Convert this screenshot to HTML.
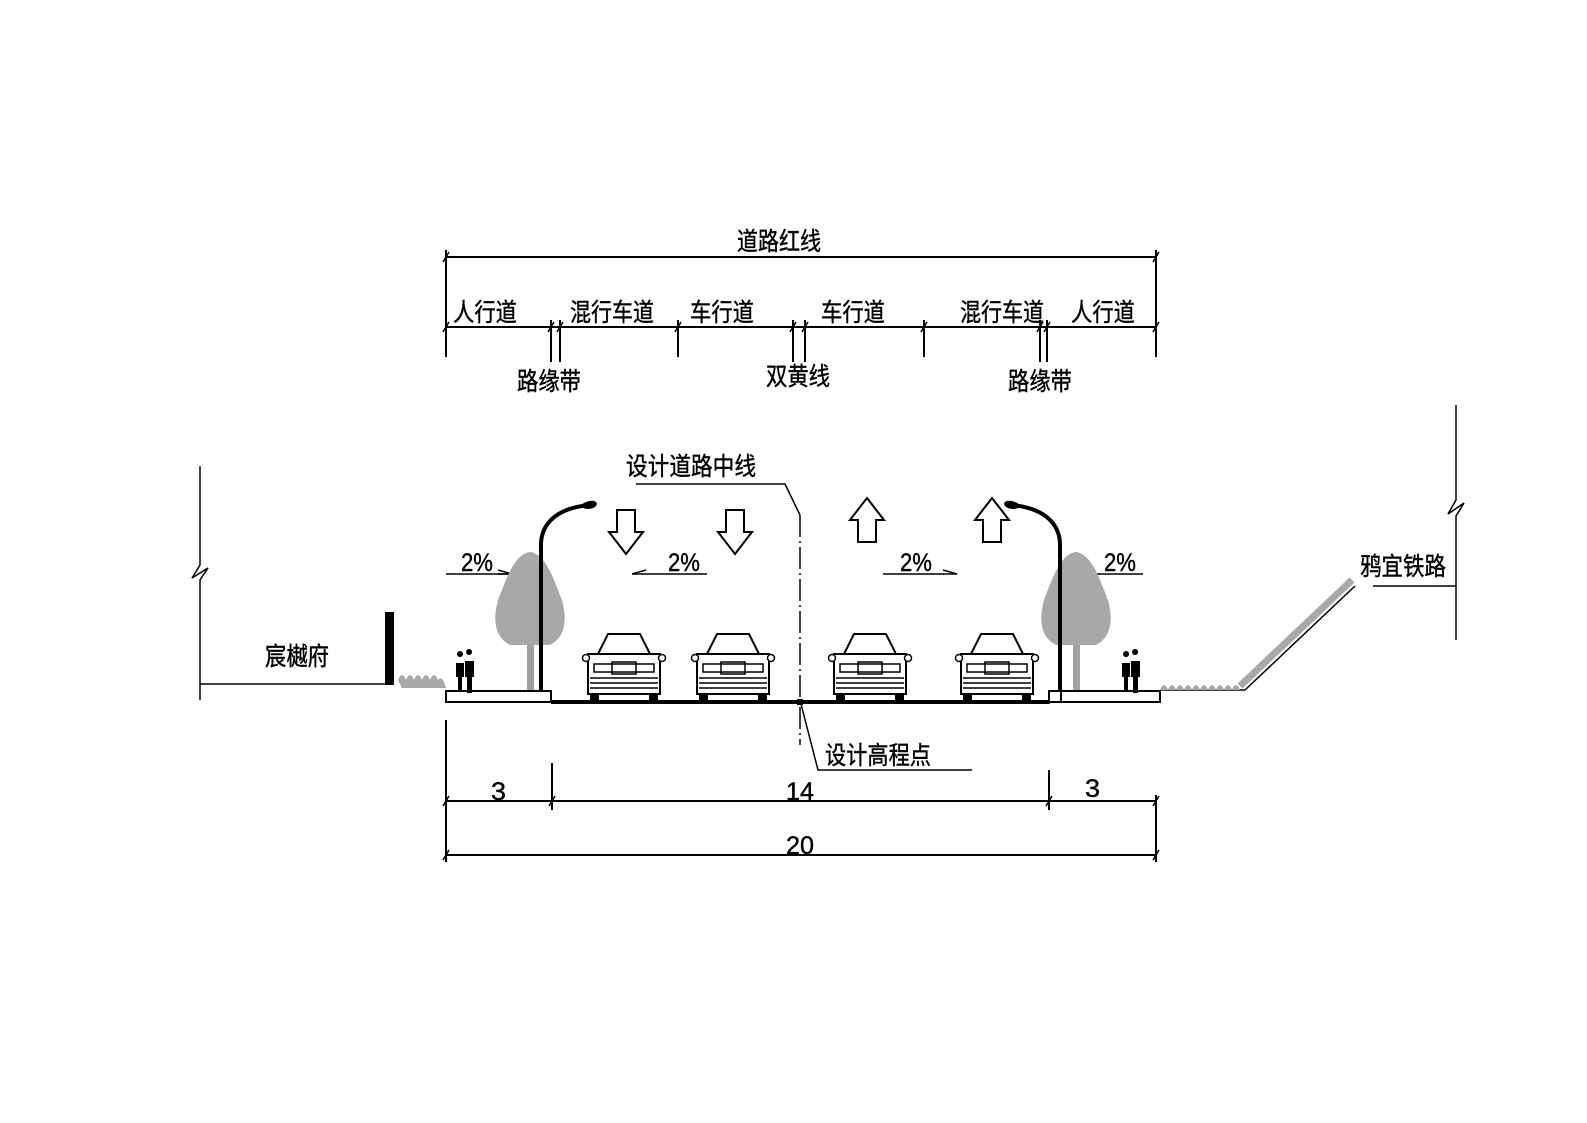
<!DOCTYPE html>
<html><head><meta charset="utf-8"><style>
html,body{margin:0;padding:0;background:#fff;overflow:hidden;}
svg{display:block;}
text{font-family:"Liberation Sans","Noto Sans CJK SC",sans-serif;fill:#000;stroke:#000;stroke-width:0.4;}
</style></head><body>
<svg width="1587" height="1123" viewBox="0 0 1587 1123" xmlns="http://www.w3.org/2000/svg">
<defs>
<g id="car">
 <path d="M-26,8 L-16,-12 L16,-12 L26,8" fill="none" stroke="#000" stroke-width="2"/>
 <rect x="-36" y="8" width="72" height="40" fill="#fff" stroke="#000" stroke-width="2"/>
 <circle cx="-38" cy="12" r="3.5" fill="#fff" stroke="#000" stroke-width="1.5"/>
 <circle cx="38" cy="12" r="3.5" fill="#fff" stroke="#000" stroke-width="1.5"/>
 <rect x="-30" y="18" width="60" height="8" fill="none" stroke="#000" stroke-width="1.5"/>
 <rect x="-12" y="16" width="24" height="12" fill="none" stroke="#000" stroke-width="1.5"/>
 <line x1="-34" y1="32" x2="34" y2="32" stroke="#000" stroke-width="1.5"/>
 <line x1="-34" y1="37" x2="34" y2="37" stroke="#000" stroke-width="1.5"/>
 <line x1="-34" y1="42" x2="34" y2="42" stroke="#000" stroke-width="1.5"/>
 <rect x="-34" y="48" width="9" height="6" fill="#000"/>
 <rect x="25" y="48" width="9" height="6" fill="#000"/>
</g>
<g id="people">
 <path d="M-6,-30 a3,3 0 1,1 0.1,0 M-10,-24 h8 v14 h-2 v14 h-4 v-14 h-2z" fill="#000"/>
 <path d="M3,-32 a3,3 0 1,1 0.1,0 M-1,-26 h9 v16 h-2 v16 h-5 v-16 h-2z" fill="#000"/>
</g>
<g id="tree">
 <rect x="-3" y="40" width="7" height="50" fill="#a0a0a0"/>
 <path d="M0,-48 C16,-46 24,-20 32,0 C38,22 34,38 20,45 L-20,45 C-34,38 -38,22 -32,0 C-24,-20 -16,-46 0,-48z" fill="#a8a8a8"/>
</g>
</defs>

<g stroke="#000" stroke-width="2" fill="none">
 <line x1="446" y1="257" x2="1156" y2="257"/>
 <line x1="446" y1="250" x2="446" y2="357"/>
 <line x1="1156" y1="250" x2="1156" y2="357"/>
 <line x1="446" y1="327" x2="1156" y2="327"/>
 <line x1="551" y1="320" x2="551" y2="362"/>
 <line x1="560" y1="320" x2="560" y2="362"/>
 <line x1="678" y1="320" x2="678" y2="357"/>
 <line x1="793" y1="320" x2="793" y2="362"/>
 <line x1="805" y1="320" x2="805" y2="362"/>
 <line x1="924" y1="320" x2="924" y2="357"/>
 <line x1="1040" y1="320" x2="1040" y2="362"/>
 <line x1="1047" y1="320" x2="1047" y2="362"/>
</g>
<g stroke="#000" stroke-width="1.5">
 <line x1="443" y1="262" x2="449" y2="252"/><line x1="1153" y1="262" x2="1159" y2="252"/>
 <line x1="443" y1="332" x2="449" y2="322"/><line x1="548" y1="332" x2="554" y2="322"/>
 <line x1="557" y1="332" x2="563" y2="322"/><line x1="675" y1="332" x2="681" y2="322"/>
 <line x1="790" y1="332" x2="796" y2="322"/><line x1="802" y1="332" x2="808" y2="322"/>
 <line x1="921" y1="332" x2="927" y2="322"/><line x1="1037" y1="332" x2="1043" y2="322"/>
 <line x1="1044" y1="332" x2="1050" y2="322"/><line x1="1153" y1="332" x2="1159" y2="322"/>
</g>
<g font-size="25">
 <text x="737" y="250" textLength="84" lengthAdjust="spacingAndGlyphs">道路红线</text>
 <text x="453" y="321" textLength="64" lengthAdjust="spacingAndGlyphs">人行道</text>
 <text x="570" y="321" textLength="84" lengthAdjust="spacingAndGlyphs">混行车道</text>
 <text x="690" y="321" textLength="64" lengthAdjust="spacingAndGlyphs">车行道</text>
 <text x="821" y="321" textLength="64" lengthAdjust="spacingAndGlyphs">车行道</text>
 <text x="960" y="321" textLength="84" lengthAdjust="spacingAndGlyphs">混行车道</text>
 <text x="1071" y="321" textLength="64" lengthAdjust="spacingAndGlyphs">人行道</text>
 <text x="517" y="390" textLength="64" lengthAdjust="spacingAndGlyphs">路缘带</text>
 <text x="766" y="385" textLength="64" lengthAdjust="spacingAndGlyphs">双黄线</text>
 <text x="1008" y="390" textLength="64" lengthAdjust="spacingAndGlyphs">路缘带</text>
 <text x="626" y="475" textLength="130" lengthAdjust="spacingAndGlyphs">设计道路中线</text>
 <text x="825" y="764" textLength="106" lengthAdjust="spacingAndGlyphs">设计高程点</text>
 <text x="265" y="665" textLength="64" lengthAdjust="spacingAndGlyphs">宸樾府</text>
 <text x="1360" y="575" textLength="86" lengthAdjust="spacingAndGlyphs">鸦宜铁路</text>
 <text x="461" y="571" textLength="32" lengthAdjust="spacingAndGlyphs">2%</text>
 <text x="668" y="571" textLength="32" lengthAdjust="spacingAndGlyphs">2%</text>
 <text x="900" y="571" textLength="32" lengthAdjust="spacingAndGlyphs">2%</text>
 <text x="1104" y="571" textLength="32" lengthAdjust="spacingAndGlyphs">2%</text>
 <text x="491" y="800" textLength="15" lengthAdjust="spacingAndGlyphs">3</text>
 <text x="786" y="800" textLength="28" lengthAdjust="spacingAndGlyphs">14</text>
 <text x="1085" y="797" textLength="15" lengthAdjust="spacingAndGlyphs">3</text>
 <text x="786" y="854" textLength="28" lengthAdjust="spacingAndGlyphs">20</text>
</g>

<g stroke="#000" stroke-width="1.5" fill="none">
 <line x1="446" y1="574" x2="512" y2="574"/><path d="M498,570 L512,574 L498,574"/>
 <line x1="632" y1="574" x2="707" y2="574"/><path d="M646,570 L632,574"/>
 <line x1="883" y1="574" x2="957" y2="574"/><path d="M943,570 L957,574"/>
 <line x1="1072" y1="574" x2="1143" y2="574"/><path d="M1086,570 L1072,574"/>
</g>

<g stroke="#000" stroke-width="1.5" fill="none">
 <path d="M200,466 V565 L192,578 L208,568 L200,580 V700"/>
 <path d="M1456,405 V500 L1448,514 L1464,503 L1456,516 V640"/>
 <line x1="200" y1="684" x2="388" y2="684"/>
 <line x1="1373" y1="586" x2="1456" y2="586"/>
 <line x1="1160" y1="690" x2="1245" y2="690"/>
 <path d="M1245,690 L1355,586"/>
</g>
<rect x="385" y="612" width="9" height="73" fill="#000"/>
<path d="M398,680 q4,-10 8,0 q4,-10 8,0 q4,-10 8,0 q4,-10 8,0 q4,-10 8,0 q4,-6 8,8 h-44z" fill="#a8a8a8"/>
<path d="M1160,690 q4,-10 8,0 q4,-10 8,0 q4,-10 8,0 q4,-10 8,0 q4,-10 8,0 q4,-10 8,0 q4,-10 8,0 q4,-10 8,0 q4,-10 8,0 q4,-10 8,0 z" fill="#a8a8a8"/>
<line x1="1240" y1="686" x2="1352" y2="580" stroke="#a8a8a8" stroke-width="7"/>

<rect x="446" y="691" width="105" height="11" fill="#fff" stroke="#000" stroke-width="2"/>
<rect x="1049" y="691" width="111" height="11" fill="#fff" stroke="#000" stroke-width="2"/>
<line x1="551" y1="702" x2="1050" y2="702" stroke="#000" stroke-width="4"/>
<line x1="1061" y1="691" x2="1061" y2="702" stroke="#000" stroke-width="2"/>

<use href="#tree" x="530" y="600"/>
<use href="#tree" x="1076" y="600"/>
<path d="M541,690 V545 C541,525 555,508 590,505" fill="none" stroke="#000" stroke-width="4"/>
<path d="M580,506 C588,498 600,500 596,506 C592,510 584,510 580,506z" fill="#000"/>
<path d="M1060,690 V545 C1060,525 1046,508 1011,505" fill="none" stroke="#000" stroke-width="4"/>
<path d="M1021,506 C1013,498 1001,500 1005,506 C1009,510 1017,510 1021,506z" fill="#000"/>
<use href="#people" x="466" y="687"/>
<use href="#people" x="1132" y="687"/>

<use href="#car" x="624" y="646"/>
<use href="#car" x="733" y="646"/>
<use href="#car" x="870" y="646"/>
<use href="#car" x="997" y="646"/>

<g fill="#fff" stroke="#000" stroke-width="2">
 <path d="M617,510 H635 V532 H643 L626,554 L609,532 H617z"/>
 <path d="M726,510 H744 V532 H752 L735,554 L718,532 H726z"/>
 <path d="M858,542 H876 V520 H884 L867,498 L850,520 H858z"/>
 <path d="M983,542 H1001 V520 H1009 L992,498 L975,520 H983z"/>
</g>

<g stroke="#000" stroke-width="1.5" fill="none">
 <line x1="800" y1="515" x2="800" y2="745" stroke-dasharray="22,4,2,4"/>
 <path d="M636,484 H785 L800,515"/>
 <path d="M801,704 L818,770 H972"/>
</g>
<rect x="797" y="699" width="6" height="6" fill="#000"/>

<g stroke="#000" stroke-width="2" fill="none">
 <line x1="446" y1="720" x2="446" y2="862"/>
 <line x1="552" y1="763" x2="552" y2="810"/>
 <line x1="1049" y1="770" x2="1049" y2="810"/>
 <line x1="1156" y1="795" x2="1156" y2="862"/>
 <line x1="446" y1="801" x2="1156" y2="801"/>
 <line x1="446" y1="855" x2="1156" y2="855"/>
</g>
<g stroke="#000" stroke-width="1.5">
 <line x1="443" y1="806" x2="449" y2="796"/><line x1="549" y1="806" x2="555" y2="796"/>
 <line x1="1046" y1="806" x2="1052" y2="796"/><line x1="1153" y1="806" x2="1159" y2="796"/>
 <line x1="443" y1="860" x2="449" y2="850"/><line x1="1153" y1="860" x2="1159" y2="850"/>
</g>
</svg>
</body></html>
